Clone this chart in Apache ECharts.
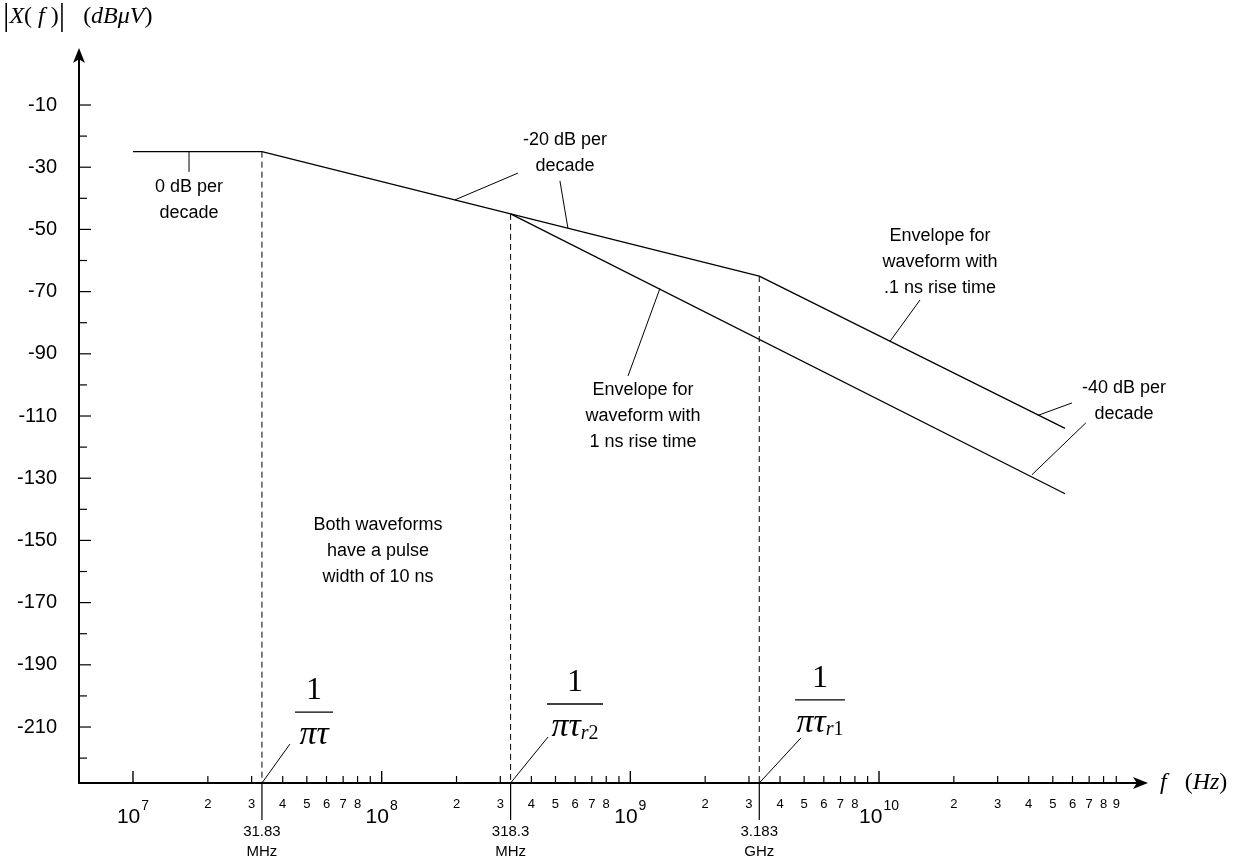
<!DOCTYPE html>
<html><head><meta charset="utf-8">
<script src="https://cdn.jsdelivr.net/npm/echarts@6/dist/echarts.min.js"></script>
<style>html,body{margin:0;padding:0;background:#fff}#c{width:1244px;height:860px}</style>
</head><body><div id="c"></div>
<script>
// ---------------- data ----------------
const envelopeRise01 = [[1e7, -25], [3.3e7, -25], [3.3e8, -45], [3.3e9, -65], [5.6e10, -114]];
const envelopeRise1 = [[3.3e8, -45], [5.6e10, -135]];

const breakFreqs = [3.3e7, 3.3e8, 3.3e9];
const breakLevels = [-25, -45, -65];
const breakLabels = ['31.83\nMHz', '318.3\nMHz', '3.183\nGHz'];

const yMajorTicks = [-10, -30, -50, -70, -90, -110, -130, -150, -170, -190, -210];
const yMinorTicks = [-20, -40, -60, -80, -100, -120, -140, -160, -180, -200, -220];

const decadeTicks = [1e7, 1e8, 1e9, 1e10];
const decadeExponents = ['7', '8', '9', '10'];

const minorTicks = [
  2e7, 3e7, 4e7, 5e7, 6e7, 7e7, 8e7, 9e7,
  2e8, 3e8, 4e8, 5e8, 6e8, 7e8, 8e8, 9e8,
  2e9, 3e9, 4e9, 5e9, 6e9, 7e9, 8e9, 9e9,
  2e10, 3e10, 4e10, 5e10, 6e10, 7e10, 8e10, 9e10
];
const minorLabels = [
  '2', '3', '4', '5', '6', '7', '8', '',
  '2', '3', '4', '5', '6', '7', '8', '',
  '2', '3', '4', '5', '6', '7', '8', '',
  '2', '3', '4', '5', '6', '7', '8', '9'
];

const noteTexts = [
  '0 dB per\ndecade',
  '-20 dB per\ndecade',
  'Envelope for\nwaveform with\n.1 ns rise time',
  'Envelope for\nwaveform with\n1 ns rise time',
  '-40 dB per\ndecade',
  'Both waveforms\nhave a pulse\nwidth of 10 ns'
];
const notePositions = [
  [1.68e7, -40.5], [5.46e8, -25.4], [1.758e10, -60.5],
  [1.125e9, -110.0], [9.66e10, -105.2], [9.66e7, -153.4]
];
const noteLeaders = [
  [1.68e7, -25, 1.68e7, -31.5],
  [1.972e8, -40.5, 3.53e8, -31.9],
  [5.61e8, -49.6, 5.21e8, -34.4],
  [1.107e10, -86.0, 1.462e10, -72.7],
  [1.315e9, -69.0, 9.79e8, -97.1],
  [4.355e10, -109.8, 5.97e10, -105.8],
  [4.12e10, -128.9, 6.79e10, -112.2]
];

const fractionAnchors = [[5.346e7, -205.2], [5.99e8, -202.6], [5.79e9, -201.3]];
const fractionSubs = ['', '2', '1'];
const fractionLeaderEnds = [[4.276e7, -215.5], [4.667e8, -213.2], [4.853e9, -213.5]];

const X_MIN = 6.065e6, X_MAX = 1.1314e11;
const Y_MIN = -228, Y_MAX = 6.08;

// ---------------- chart ----------------
const SANS = '"Liberation Sans", Arial, sans-serif';
const SERIF = '"Liberation Serif", "Times New Roman", serif';
const INK = '#000';

function txt(text, x, y, font, align, valign, extra) {
  return { type: 'text', silent: true, style: Object.assign({
    text, x, y, font, fill: INK,
    align: align, verticalAlign: valign, textAlign: align, textVerticalAlign: valign
  }, extra || {}) };
}
function seg(x1, y1, x2, y2, w, dash) {
  return { type: 'line', silent: true, shape: { x1, y1, x2, y2 },
    style: { stroke: INK, lineWidth: w || 1, lineDash: dash || null } };
}

const chart = echarts.init(document.getElementById('c'), null, { renderer: 'canvas' });

const option = {
  animation: false,
  backgroundColor: '#fff',
  grid: { left: 79, right: 103, top: 55, bottom: 77, containLabel: false, outerBoundsMode: 'none' },
  xAxis: {
    type: 'log', logBase: 10, min: X_MIN, max: X_MAX,
    axisLine: { show: true, onZero: false, symbol: ['none', 'arrow'], symbolSize: [9, 15], symbolOffset: [0, 7],
      lineStyle: { color: INK, width: 2 } },
    axisTick: { show: false }, axisLabel: { show: false },
    splitLine: { show: false }, minorTick: { show: false }, minorSplitLine: { show: false },
    name: '{i|f}{u|   (}{i|Hz}{u|)}', nameLocation: 'end', nameGap: 19,
    nameTextStyle: { align: 'left', verticalAlign: 'middle',
      rich: { i: { fontFamily: SERIF, fontStyle: 'italic', fontSize: 24, color: INK },
              u: { fontFamily: SERIF, fontSize: 24, color: INK } } }
  },
  yAxis: {
    type: 'value', min: Y_MIN, max: Y_MAX,
    axisLine: { show: true, onZero: false, symbol: ['none', 'arrow'], symbolSize: [9, 15], symbolOffset: [0, 7],
      lineStyle: { color: INK, width: 2 } },
    axisTick: { show: false }, axisLabel: { show: false }, splitLine: { show: false },
    name: '{b||}{i|X}{u|(}{i| f }{u|)}{b||}{u|   (}{i|dBμV}{u|)}', nameLocation: 'end', nameGap: 22,
    nameTextStyle: { align: 'left', verticalAlign: 'bottom', padding: [0, 0, 0, -76],
      rich: { i: { fontFamily: SERIF, fontStyle: 'italic', fontSize: 24, color: INK },
              u: { fontFamily: SERIF, fontSize: 24, color: INK },
              b: { fontFamily: SERIF, fontSize: 32, color: INK } } }
  },
  series: [
    { type: 'line', data: envelopeRise01, symbol: 'none', silent: true,
      lineStyle: { color: INK, width: 1.3 }, z: 5 },
    { type: 'line', data: envelopeRise1, symbol: 'none', silent: true,
      lineStyle: { color: INK, width: 1.3 }, z: 5 },
    // y-axis ticks and labels
    { type: 'custom', silent: true, clip: false, z: 6,
      data: yMajorTicks.map(v => [X_MIN, v]),
      renderItem(params, api) {
        const p = api.coord([X_MIN, api.value(1)]);
        return { type: 'group', children: [
          seg(p[0], p[1], p[0] + 12, p[1], 1.2),
          txt(String(yMajorTicks[params.dataIndex]), p[0] - 22, p[1], '20px ' + SANS, 'right', 'middle')
        ] };
      } },
    { type: 'custom', silent: true, clip: false, z: 6,
      data: yMinorTicks.map(v => [X_MIN, v]),
      renderItem(params, api) {
        const p = api.coord([X_MIN, api.value(1)]);
        return seg(p[0], p[1], p[0] + 8, p[1], 1.2);
      } },
    // x-axis minor ticks + digit labels
    { type: 'custom', silent: true, clip: false, z: 6,
      data: minorTicks.map(v => [v, Y_MIN]),
      renderItem(params, api) {
        const p = api.coord([api.value(0), Y_MIN]);
        const ch = [seg(p[0], p[1], p[0], p[1] - 7, 1.2)];
        const l = minorLabels[params.dataIndex];
        if (l) ch.push(txt(l, p[0], p[1] + 21, '13px ' + SANS, 'center', 'middle'));
        return { type: 'group', children: ch };
      } },
    // x-axis decade ticks + 10^k labels
    { type: 'custom', silent: true, clip: false, z: 6,
      data: decadeTicks.map(v => [v, Y_MIN]),
      renderItem(params, api) {
        const p = api.coord([api.value(0), Y_MIN]);
        const e = decadeExponents[params.dataIndex];
        const w = 23.35 + 1 + 7.78 * e.length;
        const left = p[0] - w / 2;
        return { type: 'group', children: [
          seg(p[0], p[1], p[0], p[1] - 12, 1.4),
          txt('10', left, p[1] + 34, '21px ' + SANS, 'left', 'middle'),
          txt(e, left + 24.35, p[1] + 23, '14px ' + SANS, 'left', 'middle')
        ] };
      } },
    // break frequencies: dashed verticals, long ticks, labels
    { type: 'custom', silent: true, clip: false, z: 4,
      data: breakFreqs.map((f, i) => [f, breakLevels[i]]),
      renderItem(params, api) {
        const top = api.coord([api.value(0), api.value(1)]);
        const bot = api.coord([api.value(0), Y_MIN]);
        return { type: 'group', children: [
          seg(top[0], top[1], bot[0], bot[1], 1, [6, 4]),
          seg(bot[0], bot[1], bot[0], bot[1] + 37, 1.2),
          txt(breakLabels[params.dataIndex], bot[0], bot[1] + 59, '15px ' + SANS, 'center', 'middle', { lineHeight: 20 })
        ] };
      } },
    // fraction labels 1/(pi tau)
    { type: 'custom', silent: true, clip: false, z: 6,
      data: fractionAnchors,
      renderItem(params, api) {
        const i = params.dataIndex;
        const a = api.coord([api.value(0), api.value(1)]);
        const b = api.coord([breakFreqs[i], Y_MIN]);
        const e = api.coord(fractionLeaderEnds[i]);
        const bw = [38, 56, 50][i];
        const sub = fractionSubs[i];
        const den = sub ? '{m|πτ}{s|r}{t|' + sub + '}' : '{m|πτ}';
        return { type: 'group', children: [
          seg(b[0], b[1], e[0], e[1], 1),
          seg(a[0] - bw / 2, a[1], a[0] + bw / 2, a[1], 1.3),
          txt('1', a[0], a[1] - 21, '32px ' + SERIF, 'center', 'middle'),
          txt(den, a[0], a[1] + 23, '34px ' + SERIF, 'center', 'middle', {
            rich: {
              m: { fontFamily: SERIF, fontStyle: 'italic', fontSize: 34, fill: INK, color: INK },
              s: { fontFamily: SERIF, fontStyle: 'italic', fontSize: 20, verticalAlign: 'bottom', fill: INK, color: INK },
              t: { fontFamily: SERIF, fontSize: 20, verticalAlign: 'bottom', fill: INK, color: INK }
            } })
        ] };
      } },
    // annotation leaders
    { type: 'custom', silent: true, clip: false, z: 6,
      data: noteLeaders,
      renderItem(params, api) {
        const p1 = api.coord([api.value(0), api.value(1)]);
        const p2 = api.coord([api.value(2), api.value(3)]);
        return seg(p1[0], p1[1], p2[0], p2[1], 1);
      } },
    // annotation texts
    { type: 'custom', silent: true, clip: false, z: 6,
      data: notePositions,
      renderItem(params, api) {
        const p = api.coord([api.value(0), api.value(1)]);
        return txt(noteTexts[params.dataIndex], p[0], p[1], '18px ' + SANS, 'center', 'middle', { lineHeight: 26 });
      } }
  ]
};
chart.setOption(option);
</script></body></html>
